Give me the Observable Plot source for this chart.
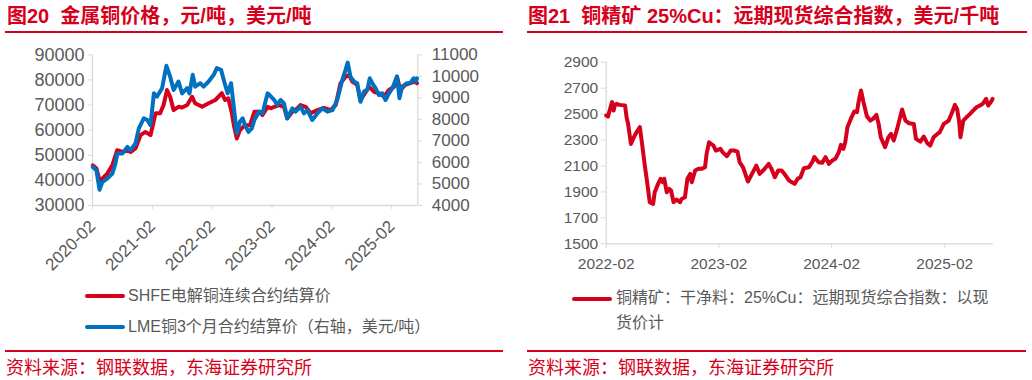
<!DOCTYPE html>
<html><head><meta charset="utf-8">
<script src="https://cdn.jsdelivr.net/npm/d3@7"></script>
<script src="https://cdn.jsdelivr.net/npm/@observablehq/plot@0.6"></script>
<style>
body{margin:0;background:#fff;}
#wrap{position:relative;width:1032px;height:380px;overflow:hidden;background:#fff;font-family:"Liberation Sans","Noto Sans CJK SC",sans-serif;}
.abs{position:absolute;white-space:pre;}
.title{font-family:"Liberation Sans","Noto Sans CJK SC",sans-serif;font-weight:700;font-size:20px;line-height:24px;color:#d6001c;top:4px}
.rule{position:absolute;height:2px;background:#d6001c}
.src{font-family:"Noto Sans CJK SC",sans-serif;font-size:18px;line-height:22px;color:#d6001c;top:355px}
.leg{font-family:"Liberation Sans","Noto Sans CJK SC",sans-serif;font-size:16px;line-height:20px;color:#595959}
.sw{position:absolute;width:40px;height:4px;border-radius:2px}
.plot{position:absolute;top:40px}
</style></head>
<body>
<div id="wrap">
  <div class="abs title" style="left:7px">图20  金属铜价格，元/吨，美元/吨</div>
  <div class="rule" style="left:5px;width:498px;top:31px"></div>
  <div class="abs title" style="left:528px">图21  铜精矿 25%Cu：远期现货综合指数，美元/千吨</div>
  <div class="rule" style="left:527px;width:500px;top:31px"></div>

  <div id="left" class="plot" style="left:0px"></div>
  <div id="right" class="plot" style="left:520px"></div>

  <div class="sw" style="left:85px;top:294px;background:#d6001c"></div>
  <div class="abs leg" style="left:128px;top:286px">SHFE电解铜连续合约结算价</div>
  <div class="sw" style="left:85px;top:325px;background:#0070c0"></div>
  <div class="abs leg" style="left:128px;top:317px">LME铜3个月合约结算价（右轴，美元/吨）</div>

  <div class="sw" style="left:572px;top:297px;background:#d6001c"></div>
  <div class="abs leg" style="left:616px;top:286px;line-height:24.7px">铜精矿：干净料：25%Cu：远期现货综合指数：以现
货价计</div>

  <div class="rule" style="left:5px;width:498px;top:350px"></div>
  <div class="rule" style="left:527px;width:499px;top:350px"></div>
  <div class="abs src" style="left:6px">资料来源：钢联数据，东海证券研究所</div>
  <div class="abs src" style="left:528px">资料来源：钢联数据，东海证券研究所</div>
</div>
<script>
// ---------- Data: left chart ----------
const shfeDates = ["2020-02-03","2020-02-25","2020-03-15","2020-04-01","2020-05-01","2020-06-01","2020-07-01","2020-08-01","2020-09-01","2020-09-20","2020-10-20","2020-11-20","2020-12-20","2021-01-20","2021-02-20","2021-03-20","2021-04-10","2021-05-01","2021-05-20","2021-06-10","2021-07-10","2021-08-01","2021-09-01","2021-10-01","2021-10-20","2021-12-01","2022-01-10","2022-02-20","2022-04-01","2022-04-20","2022-05-10","2022-06-01","2022-06-15","2022-07-01","2022-07-20","2022-08-20","2022-09-20","2022-10-16","2022-11-15","2022-12-05","2023-01-05","2023-01-26","2023-02-15","2023-03-15","2023-04-15","2023-05-05","2023-06-05","2023-07-05","2023-07-25","2023-08-25","2023-09-25","2023-11-05","2023-12-15","2024-01-25","2024-02-25","2024-03-25","2024-04-25","2024-05-15","2024-06-05","2024-07-05","2024-07-25","2024-08-15","2024-09-15","2024-10-15","2024-11-15","2024-12-15","2025-01-15","2025-02-15","2025-03-05","2025-03-25","2025-04-25","2025-05-25","2025-06-25","2025-07-05"];
const shfeValues = [46000,44700,40000,40700,42700,46000,52000,51300,52000,51300,52700,58000,59300,58000,66700,66700,70000,76000,73300,68000,69300,69000,70000,73300,70700,69300,70700,72000,74700,72000,72700,66700,61300,56700,60000,62000,62000,67300,67300,66000,69300,68700,69300,70000,69300,64700,67300,68700,70000,69300,66700,68000,68900,68000,70000,78700,81300,82000,79300,78000,72000,74000,77300,75300,74700,73300,76000,77300,81300,76000,78000,78700,79300,78700];

const lmeDates = ["2020-02-03","2020-02-25","2020-03-15","2020-04-01","2020-05-01","2020-06-01","2020-06-20","2020-07-01","2020-08-01","2020-09-01","2020-09-20","2020-10-20","2020-11-10","2020-12-10","2021-01-01","2021-01-20","2021-02-10","2021-03-01","2021-04-01","2021-04-27","2021-05-20","2021-06-10","2021-07-10","2021-08-01","2021-09-01","2021-09-15","2021-10-05","2021-10-20","2021-11-20","2021-12-10","2022-01-10","2022-02-10","2022-03-01","2022-03-27","2022-04-15","2022-05-06","2022-05-27","2022-06-10","2022-07-01","2022-07-20","2022-08-06","2022-08-20","2022-09-10","2022-10-01","2022-10-16","2022-11-15","2022-12-05","2023-01-05","2023-01-17","2023-02-15","2023-03-05","2023-03-25","2023-04-15","2023-05-05","2023-06-05","2023-06-25","2023-07-25","2023-08-15","2023-09-05","2023-10-05","2023-11-05","2023-12-05","2024-01-05","2024-02-05","2024-03-05","2024-04-05","2024-04-25","2024-05-08","2024-05-25","2024-06-15","2024-07-05","2024-07-25","2024-08-15","2024-09-05","2024-09-20","2024-10-05","2024-10-25","2024-11-15","2024-12-05","2024-12-25","2025-01-15","2025-02-05","2025-03-05","2025-03-20","2025-04-05","2025-05-05","2025-05-25","2025-06-15","2025-06-28","2025-07-05"];
const lmeValues = [5790,5630,4730,5090,5250,5480,5950,6410,6410,6720,6570,6880,7580,8050,7970,7730,9210,9060,9450,10490,9990,9370,9760,9210,9450,9210,10070,9520,9680,9520,9760,10070,10380,10300,9760,9210,9680,8750,7350,7890,8050,7730,7420,7580,7970,8360,8280,9210,9130,8900,8670,8900,8740,8050,8510,8360,8590,8280,8430,7970,8280,8510,8360,8430,8900,9830,10300,10640,9990,9760,9680,8820,9290,9370,9910,9680,9450,9130,9210,8900,9210,9450,9990,8980,9520,9680,9680,9910,9760,9910];

const leftYDomain = [30000, 90000];
const leftYTicks = [30000, 40000, 50000, 60000, 70000, 80000, 90000];
const rightYDomain = [4000, 11000];
const rightYTicks = [4000, 5000, 6000, 7000, 8000, 9000, 10000, 11000];
const leftXDomain = ["2020-02-01", "2025-07-10"];
const leftXTicks = ["2020-02-01", "2021-02-01", "2022-02-01", "2023-02-01", "2024-02-01", "2025-02-01"];

// ---------- Data: right chart ----------
const oreDates = ["2022-02-01","2022-02-07","2022-02-15","2022-02-20","2022-02-25","2022-03-01","2022-03-06","2022-03-17","2022-04-03","2022-04-08","2022-04-13","2022-04-22","2022-04-29","2022-05-10","2022-05-21","2022-05-26","2022-06-06","2022-06-15","2022-06-22","2022-07-03","2022-07-08","2022-07-19","2022-07-27","2022-08-03","2022-08-08","2022-08-16","2022-08-24","2022-08-30","2022-09-07","2022-09-17","2022-09-28","2022-10-03","2022-10-14","2022-10-22","2022-10-31","2022-11-05","2022-11-16","2022-11-27","2022-12-07","2022-12-18","2022-12-23","2022-12-31","2023-01-14","2023-01-22","2023-02-06","2023-02-13","2023-02-27","2023-03-11","2023-03-22","2023-04-02","2023-04-09","2023-04-20","2023-05-06","2023-05-19","2023-06-02","2023-06-13","2023-06-29","2023-07-12","2023-07-21","2023-08-01","2023-08-12","2023-08-23","2023-09-05","2023-09-16","2023-10-04","2023-10-14","2023-10-23","2023-11-03","2023-11-19","2023-11-30","2023-12-07","2023-12-21","2024-01-01","2024-01-12","2024-01-23","2024-02-03","2024-02-13","2024-02-24","2024-03-02","2024-03-10","2024-03-16","2024-03-23","2024-04-03","2024-04-14","2024-04-23","2024-04-28","2024-05-06","2024-05-14","2024-05-25","2024-06-05","2024-06-14","2024-06-25","2024-07-02","2024-07-09","2024-07-23","2024-08-03","2024-08-11","2024-08-20","2024-08-31","2024-09-16","2024-09-27","2024-10-08","2024-10-24","2024-10-31","2024-11-14","2024-11-25","2024-12-06","2024-12-16","2024-12-27","2025-01-08","2025-01-16","2025-01-29","2025-02-14","2025-02-25","2025-03-06","2025-03-13","2025-03-20","2025-03-24","2025-04-02","2025-04-13","2025-04-24","2025-05-04","2025-05-15","2025-05-26","2025-06-04","2025-06-15","2025-06-22","2025-06-30","2025-07-06"];
const oreValues = [2489,2481,2553,2592,2527,2571,2579,2571,2566,2476,2424,2270,2309,2360,2399,2309,2103,1949,1821,1808,1898,1962,2001,1975,2001,1898,1923,1911,1821,1841,1821,1846,1859,2001,2039,1975,2065,2078,2078,2090,2193,2283,2258,2219,2232,2206,2175,2219,2219,2211,2129,2090,1980,2039,2103,2039,2078,2116,2078,2013,2065,2065,2026,1988,1962,2001,2013,2083,2090,2129,2168,2129,2124,2168,2116,2142,2155,2206,2263,2232,2283,2399,2463,2520,2515,2592,2682,2592,2484,2450,2463,2494,2424,2322,2245,2322,2347,2296,2386,2535,2450,2430,2424,2309,2288,2327,2278,2257,2322,2347,2360,2424,2450,2515,2571,2540,2437,2322,2450,2476,2502,2527,2553,2566,2579,2617,2566,2592,2617];
const oreYDomain = [1500, 2900];
const oreYTicks = [1500, 1700, 1900, 2100, 2300, 2500, 2700, 2900];
const oreXDomain = ["2022-02-01", "2025-07-08"];
const oreXTicks = ["2022-02-01", "2023-02-01", "2024-02-01", "2025-02-01"];

// ---------- Styles ----------
const RED = "#d6001c", BLUE = "#0070c0", AXIS = "#d9d9d9", LABEL = "#595959";
const parse = d3.utcParse("%Y-%m-%d");
const fmtMonth = d3.utcFormat("%Y-%m");
const styleLeft = {fontFamily: '"Liberation Sans", Arial, sans-serif', fontSize: "17px", color: LABEL, background: "transparent", overflow: "visible"};
const styleRight = {fontFamily: '"Liberation Sans", Arial, sans-serif', fontSize: "15.5px", color: LABEL, background: "transparent", overflow: "visible"};

// secondary axis mapping (LME -> left scale)
const toLeft = v => leftYDomain[0] + (v - rightYDomain[0]) * (leftYDomain[1] - leftYDomain[0]) / (rightYDomain[1] - rightYDomain[0]);
const fromLeft = v => rightYDomain[0] + (v - leftYDomain[0]) * (rightYDomain[1] - rightYDomain[0]) / (leftYDomain[1] - leftYDomain[0]);

const shfe = shfeDates.map((d, i) => ({date: parse(d), value: shfeValues[i]}));
const lme = lmeDates.map((d, i) => ({date: parse(d), value: toLeft(lmeValues[i])}));
const lx = leftXDomain.map(parse);

const leftChart = Plot.plot({
  width: 515, height: 240,
  marginLeft: 92, marginRight: 97.7, marginTop: 14.3, marginBottom: 75,
  style: styleLeft,
  x: {type: "utc", domain: lx, label: null},
  y: {domain: leftYDomain, label: null},
  marks: [
    Plot.ruleX([lx[0]], {stroke: AXIS, strokeWidth: 1.3}),
    Plot.ruleX([lx[1]], {stroke: AXIS, strokeWidth: 1.3}),
    Plot.ruleY([leftYDomain[0]], {stroke: AXIS, strokeWidth: 1.3}),
    Plot.axisY({ticks: leftYTicks, tickFormat: "d", tickSize: 4, tickPadding: 4, fontSize: 18, stroke: AXIS, label: null}),
    Plot.axisY({anchor: "right", ticks: rightYTicks.map(toLeft), tickFormat: v => String(Math.round(fromLeft(v))), tickSize: 4, tickPadding: 10, stroke: AXIS, label: null}),
    Plot.axisX({ticks: leftXTicks.map(parse), tickFormat: fmtMonth, tickRotate: -45, tickSize: 4, tickPadding: 14, stroke: AXIS, label: null}),
    Plot.line(shfe, {x: "date", y: "value", stroke: RED, strokeWidth: 4, strokeLinejoin: "round"}),
    Plot.line(lme, {x: "date", y: "value", stroke: BLUE, strokeWidth: 4, strokeLinejoin: "round"})
  ]
});
document.getElementById("left").appendChild(leftChart);

const ore = oreDates.map((d, i) => ({date: parse(d), value: oreValues[i]}));
const rx = oreXDomain.map(parse);
const rightChart = Plot.plot({
  width: 512, height: 240,
  marginLeft: 85.7, marginRight: 39.3, marginTop: 21.7, marginBottom: 36.7,
  style: styleRight,
  x: {type: "utc", domain: rx, label: null},
  y: {domain: oreYDomain, label: null},
  marks: [
    Plot.ruleX([rx[0]], {stroke: AXIS, strokeWidth: 1.3}),
    Plot.ruleY([oreYDomain[0]], {stroke: AXIS, strokeWidth: 1.3}),
    Plot.axisY({ticks: oreYTicks, tickFormat: "d", tickSize: 5, tickPadding: 3, stroke: AXIS, label: null}),
    Plot.axisX({ticks: oreXTicks.map(parse), tickFormat: fmtMonth, tickSize: 5, tickPadding: 9, stroke: AXIS, label: null}),
    Plot.line(ore, {x: "date", y: "value", stroke: RED, strokeWidth: 4, strokeLinejoin: "round"})
  ]
});
document.getElementById("right").appendChild(rightChart);
</script>
</body></html>
